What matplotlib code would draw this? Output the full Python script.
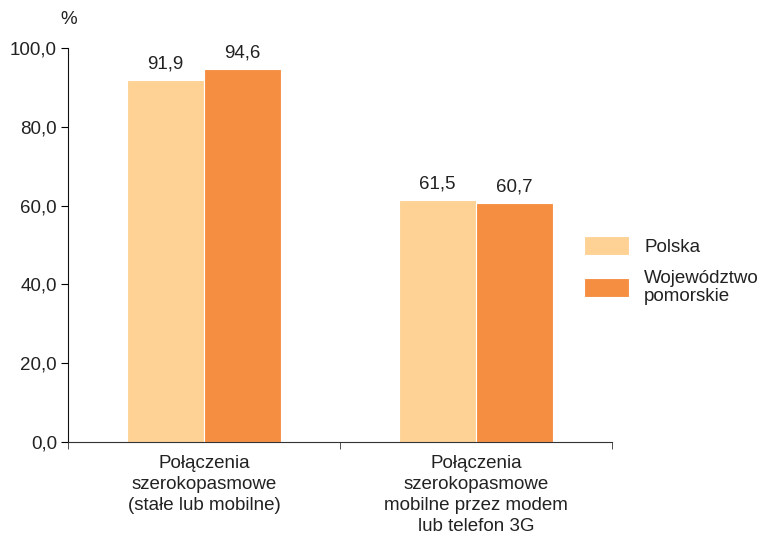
import numpy as np
import matplotlib.pyplot as plt

plt.rcParams["font.family"] = ["Liberation Sans", "DejaVu Sans"]

categories = ['Połączenia\nszerokopasmowe\n(stałe lub mobilne)',
              'Połączenia\nszerokopasmowe\nmobilne przez modem\nlub telefon 3G']
polska = [91.9, 61.5]
pomorskie = [94.6, 60.7]
series_names = ['Polska', 'Województwo\npomorskie']
colors = ['#FDD294', '#F68E42']
fs = 13.5

fig = plt.figure(figsize=(7.62, 5.34), dpi=100)
ax = fig.add_axes([68/762, 1-442/534, (612-68)/762, (442-48)/534])

x = np.arange(len(categories))
w = 0.283
b1 = ax.bar(x - w/2, polska, w, color=colors[0], edgecolor='white', linewidth=0.8, label=series_names[0])
b2 = ax.bar(x + w/2, pomorskie, w, color=colors[1], edgecolor='white', linewidth=0.8, label=series_names[1])

for bars, vals in [(b1, polska), (b2, pomorskie)]:
    for r, v in zip(bars, vals):
        ax.annotate(('%.1f' % v).replace('.', ','), (r.get_x() + r.get_width()/2, v),
                    xytext=(0, 5.5), textcoords='offset points', ha='center', va='bottom',
                    fontsize=fs, color='#222222')

ax.set_xlim(-0.5, 1.5)
ax.set_ylim(0, 100)
ax.set_yticks(np.arange(0, 101, 20))
ax.set_yticklabels([('%.1f' % t).replace('.', ',') for t in np.arange(0, 101, 20)])
ax.set_xticks(x)
ax.set_xticklabels(categories, linespacing=1.3)
ax.set_xticks([-0.5, 0.5, 1.5], minor=True)
ax.tick_params(axis='x', which='major', length=0, pad=9.5, labelsize=fs, labelcolor='#222222')
ax.tick_params(axis='x', which='minor', length=5, direction='out', color='#333333')
ax.tick_params(axis='y', length=5, direction='out', labelsize=fs, labelcolor='#222222', pad=3)
for s in ['top', 'right']:
    ax.spines[s].set_visible(False)
ax.spines['left'].set_color('#111111')
ax.spines['bottom'].set_color('#333333')

fig.text(69/762, 1-19/534, '%', ha='center', va='center', fontsize=fs, color='#222222')

leg = ax.legend(loc='upper left', bbox_to_anchor=(584/762, 1-236/534), bbox_transform=fig.transFigure,
                frameon=False, fontsize=fs, handlelength=2.4, handleheight=1.2,
                handletextpad=0.8, labelspacing=0.75, borderpad=0, borderaxespad=0)
for t in leg.get_texts():
    t.set_color('#222222')
    t.set_linespacing(1.08)

fig.savefig('out.png', dpi=100)
